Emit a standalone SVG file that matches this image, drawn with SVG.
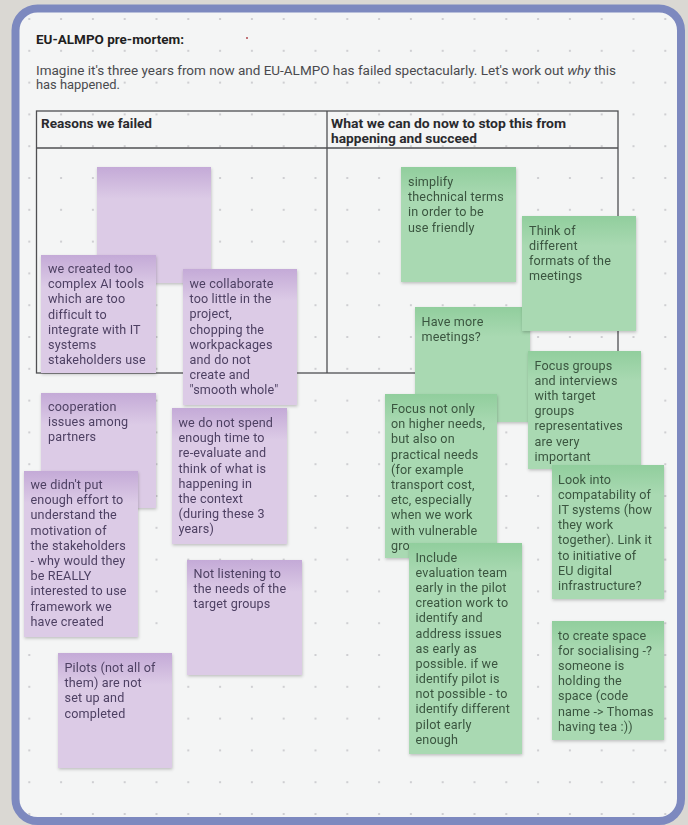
<svg xmlns="http://www.w3.org/2000/svg" width="688" height="825" viewBox="0 0 688 825">
<defs>
<style>
.ttl{font-family:Roboto,"Liberation Sans",sans-serif;font-weight:700;font-size:12.5px;fill:#1f1f22}
.sub{font-family:Roboto,"Liberation Sans",sans-serif;font-size:12px;fill:#4a4a4e}
.hdr{font-family:Roboto,"Liberation Sans",sans-serif;font-weight:700;font-size:12px;fill:#2a2a2e}
.pt{font-family:Roboto,"Liberation Sans",sans-serif;font-size:12.6px;letter-spacing:0.15px;fill:#4e4163}
.gt{font-family:Roboto,"Liberation Sans",sans-serif;font-size:12.6px;letter-spacing:0.15px;fill:#3a553f}
.pb{fill:#dccbe6}
.gb{fill:#a9d9b2}
.ptop{fill:url(#pgrad)}
.gtop{fill:url(#ggrad)}
.note{filter:url(#shd)}
.tbl{fill:none;stroke:#4f4f52;stroke-width:1.3}
</style>
<linearGradient id="pgrad" x1="0" y1="0" x2="0" y2="1">
<stop offset="0" stop-color="#c4aad7"/>
<stop offset="1" stop-color="#dccbe6"/>
</linearGradient>
<linearGradient id="ggrad" x1="0" y1="0" x2="0" y2="1">
<stop offset="0" stop-color="#91ce9d"/>
<stop offset="1" stop-color="#a9d9b2"/>
</linearGradient>
<pattern id="dots" patternUnits="userSpaceOnUse" x="13.4" y="3.1" width="31.8" height="31.8">
<circle cx="15.9" cy="15.9" r="1.1" fill="#c6c6ca"/>
</pattern>
<filter id="shd" x="-10%" y="-10%" width="125%" height="125%">
<feDropShadow dx="0.5" dy="1.5" stdDeviation="1.5" flood-color="#000" flood-opacity="0.22"/>
</filter>
</defs>

<rect x="0" y="0" width="688" height="825" fill="#dad8d3"/>
<g id="frame">
<rect x="15.5" y="8.5" width="665.5" height="812.5" rx="22" fill="#f4f5f5" stroke="#7d89bf" stroke-width="8"/>
<rect x="19.5" y="12.5" width="657.5" height="804.5" rx="18" fill="url(#dots)"/>
<circle cx="247" cy="38" r="1" fill="#b0484f"/>
</g>

<g id="header">
<text class="ttl" x="36" y="44" textLength="148" lengthAdjust="spacingAndGlyphs">EU-ALMPO pre-mortem:</text>
<text class="sub" x="36" y="74.5" textLength="580" lengthAdjust="spacingAndGlyphs">Imagine it's three years from now and EU-ALMPO has failed spectacularly. Let's work out <tspan font-style="italic">why</tspan> this</text>
<text class="sub" x="36" y="89" textLength="84" lengthAdjust="spacingAndGlyphs">has happened.</text>
</g>

<g id="table">
<rect x="36.5" y="111" width="581.5" height="262" fill="#fcfdfd" class="tbl"/>
<line class="tbl" x1="36.5" y1="148" x2="618" y2="148"/>
<line class="tbl" x1="327" y1="111" x2="327" y2="373"/>
<text class="hdr" x="41" y="128" textLength="111" lengthAdjust="spacingAndGlyphs">Reasons we failed</text>
<text class="hdr" x="331" y="128" textLength="235" lengthAdjust="spacingAndGlyphs">What we can do now to stop this from</text>
<text class="hdr" x="331" y="143" textLength="146" lengthAdjust="spacingAndGlyphs">happening and succeed</text>
</g>

<g id="connectors"></g>

<!-- purple notes -->
<g id="p-empty" class="note" transform="translate(97,167)">
<rect class="pb" width="114" height="116"/><rect class="ptop" width="114" height="32"/>
</g>
<g id="p-complex-ai" class="note" transform="translate(41,255)">
<rect class="pb" width="115" height="118"/><rect class="ptop" width="115" height="32"/>
<text class="pt" y="18"><tspan x="7">we created too</tspan><tspan x="7" dy="15.2">complex AI tools</tspan><tspan x="7" dy="15.2">which are too</tspan><tspan x="7" dy="15.2">difficult to</tspan><tspan x="7" dy="15.2">integrate with IT</tspan><tspan x="7" dy="15.2">systems</tspan><tspan x="7" dy="15.2">stakeholders use</tspan></text>
</g>
<g id="p-collaborate" class="note" transform="translate(183,269)">
<rect class="pb" width="114" height="136"/><rect class="ptop" width="114" height="32"/>
<text class="pt" y="19"><tspan x="6.5">we collaborate</tspan><tspan x="6.5" dy="15.2">too little in the</tspan><tspan x="6.5" dy="15.2">project,</tspan><tspan x="6.5" dy="15.2">chopping the</tspan><tspan x="6.5" dy="15.2">workpackages</tspan><tspan x="6.5" dy="15.2">and do not</tspan><tspan x="6.5" dy="15.2">create and</tspan><tspan x="6.5" dy="15.2">"smooth whole"</tspan></text>
</g>
<g id="p-cooperation" class="note" transform="translate(41,393)">
<rect class="pb" width="115" height="115"/><rect class="ptop" width="115" height="32"/>
<text class="pt" y="18"><tspan x="7">cooperation</tspan><tspan x="7" dy="15.2">issues among</tspan><tspan x="7" dy="15.2">partners</tspan></text>
</g>
<g id="p-motivation" class="note" transform="translate(24,471)">
<rect class="pb" width="114" height="166"/><rect class="ptop" width="114" height="32"/>
<text class="pt" y="18"><tspan x="6.5">we didn't put</tspan><tspan x="6.5" dy="15.2">enough effort to</tspan><tspan x="6.5" dy="15.2">understand the</tspan><tspan x="6.5" dy="15.2">motivation of</tspan><tspan x="6.5" dy="15.2">the stakeholders</tspan><tspan x="6.5" dy="15.2">- why would they</tspan><tspan x="6.5" dy="15.2">be REALLY</tspan><tspan x="6.5" dy="15.2">interested to use</tspan><tspan x="6.5" dy="15.2">framework we</tspan><tspan x="6.5" dy="15.2">have created</tspan></text>
</g>
<g id="p-reevaluate" class="note" transform="translate(172,408)">
<rect class="pb" width="115" height="136"/><rect class="ptop" width="115" height="32"/>
<text class="pt" y="19"><tspan x="6.5">we do not spend</tspan><tspan x="6.5" dy="15.2">enough time to</tspan><tspan x="6.5" dy="15.2">re-evaluate and</tspan><tspan x="6.5" dy="15.2">think of what is</tspan><tspan x="6.5" dy="15.2">happening in</tspan><tspan x="6.5" dy="15.2">the context</tspan><tspan x="6.5" dy="15.2">(during these 3</tspan><tspan x="6.5" dy="15.2">years)</tspan></text>
</g>
<g id="p-not-listening" class="note" transform="translate(187,560)">
<rect class="pb" width="115" height="115"/><rect class="ptop" width="115" height="32"/>
<text class="pt" y="18"><tspan x="6.5">Not listening to</tspan><tspan x="6.5" dy="15.2">the needs of the</tspan><tspan x="6.5" dy="15.2">target groups</tspan></text>
</g>
<g id="p-pilots" class="note" transform="translate(58,653)">
<rect class="pb" width="114" height="115"/><rect class="ptop" width="114" height="32"/>
<text class="pt" y="19"><tspan x="6.5">Pilots (not all of</tspan><tspan x="6.5" dy="15.2">them) are not</tspan><tspan x="6.5" dy="15.2">set up and</tspan><tspan x="6.5" dy="15.2">completed</tspan></text>
</g>

<!-- green notes -->
<g id="g-simplify" class="note" transform="translate(401,167)">
<rect class="gb" width="115" height="115"/><rect class="gtop" width="115" height="30"/>
<text class="gt" y="19"><tspan x="7">simplify</tspan><tspan x="7" dy="15.2">thechnical terms</tspan><tspan x="7" dy="15.2">in order to be</tspan><tspan x="7" dy="15.2">use friendly</tspan></text>
</g>
<g id="g-more-meetings" class="note" transform="translate(415,307)">
<rect class="gb" width="115" height="115"/><rect class="gtop" width="115" height="30"/>
<text class="gt" y="18.5"><tspan x="6.5">Have more</tspan><tspan x="6.5" dy="15.2">meetings?</tspan></text>
</g>
<g id="g-formats" class="note" transform="translate(522,216)">
<rect class="gb" width="114" height="115"/><rect class="gtop" width="114" height="30"/>
<text class="gt" y="18.5"><tspan x="7">Think of</tspan><tspan x="7" dy="15.2">different</tspan><tspan x="7" dy="15.2">formats of the</tspan><tspan x="7" dy="15.2">meetings</tspan></text>
</g>
<g id="g-focus-groups" class="note" transform="translate(528,351)">
<rect class="gb" width="113" height="118"/><rect class="gtop" width="113" height="30"/>
<text class="gt" y="18.5"><tspan x="6.5">Focus groups</tspan><tspan x="6.5" dy="15.2">and interviews</tspan><tspan x="6.5" dy="15.2">with target</tspan><tspan x="6.5" dy="15.2">groups</tspan><tspan x="6.5" dy="15.2">representatives</tspan><tspan x="6.5" dy="15.2">are very</tspan><tspan x="6.5" dy="15.2">important</tspan></text>
</g>
<g id="g-practical-needs" class="note" transform="translate(385,394)">
<rect class="gb" width="112" height="164"/><rect class="gtop" width="112" height="30"/>
<text class="gt" y="19"><tspan x="6">Focus not only</tspan><tspan x="6" dy="15.2">on higher needs,</tspan><tspan x="6" dy="15.2">but also on</tspan><tspan x="6" dy="15.2">practical needs</tspan><tspan x="6" dy="15.2">(for example</tspan><tspan x="6" dy="15.2">transport cost,</tspan><tspan x="6" dy="15.2">etc, especially</tspan><tspan x="6" dy="15.2">when we work</tspan><tspan x="6" dy="15.2">with vulnerable</tspan><tspan x="6" dy="15.2">gro</tspan></text>
</g>
<g id="g-compatibility" class="note" transform="translate(552,465)">
<rect class="gb" width="112" height="134"/><rect class="gtop" width="112" height="30"/>
<text class="gt" y="18.5"><tspan x="6">Look into</tspan><tspan x="6" dy="15.2">compatability of</tspan><tspan x="6" dy="15.2">IT systems (how</tspan><tspan x="6" dy="15.2">they work</tspan><tspan x="6" dy="15.2">together). Link it</tspan><tspan x="6" dy="15.2">to initiative of</tspan><tspan x="6" dy="15.2">EU digital</tspan><tspan x="6" dy="15.2">infrastructure?</tspan></text>
</g>
<g id="g-evaluation-team" class="note" transform="translate(409,543)">
<rect class="gb" width="113" height="211"/><rect class="gtop" width="113" height="30"/>
<text class="gt" y="18.5"><tspan x="6.5">Include</tspan><tspan x="6.5" dy="15.2">evaluation team</tspan><tspan x="6.5" dy="15.2">early in the pilot</tspan><tspan x="6.5" dy="15.2">creation work to</tspan><tspan x="6.5" dy="15.2">identify and</tspan><tspan x="6.5" dy="15.2">address issues</tspan><tspan x="6.5" dy="15.2">as early as</tspan><tspan x="6.5" dy="15.2">possible. if we</tspan><tspan x="6.5" dy="15.2">identify pilot is</tspan><tspan x="6.5" dy="15.2">not possible - to</tspan><tspan x="6.5" dy="15.2">identify different</tspan><tspan x="6.5" dy="15.2">pilot early</tspan><tspan x="6.5" dy="15.2">enough</tspan></text>
</g>
<g id="g-socialising" class="note" transform="translate(552,621)">
<rect class="gb" width="112" height="119"/><rect class="gtop" width="112" height="30"/>
<text class="gt" y="18.5"><tspan x="6">to create space</tspan><tspan x="6" dy="15.2">for socialising -?</tspan><tspan x="6" dy="15.2">someone is</tspan><tspan x="6" dy="15.2">holding the</tspan><tspan x="6" dy="15.2">space (code</tspan><tspan x="6" dy="15.2">name -&gt; Thomas</tspan><tspan x="6" dy="15.2">having tea :))</tspan></text>
</g>
</svg>
